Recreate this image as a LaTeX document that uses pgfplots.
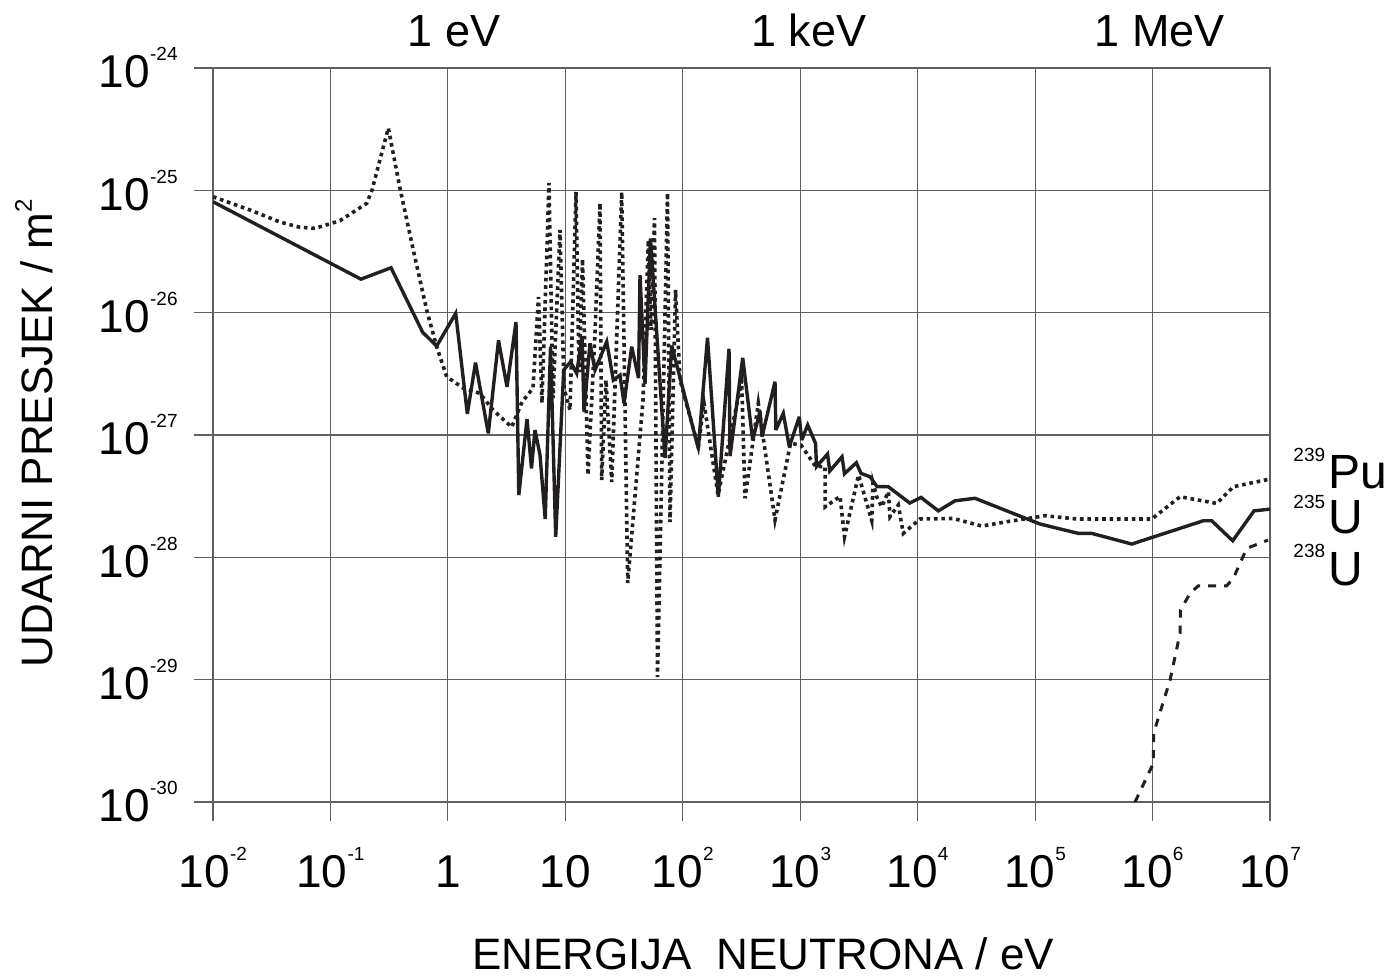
\documentclass[border=0pt]{standalone}
\usepackage{pgfplots}
\pgfplotsset{compat=1.18}
\usepackage{fontspec}
\setmainfont{Liberation Sans}
\definecolor{ink}{HTML}{231F20}
\definecolor{gridc}{HTML}{606060}
\newcommand\tl[2]{\mbox{#1\raisebox{13.5pt}{\fontsize{9.5}{9.5}\selectfont #2}}}
\newcommand\bigf{\fontsize{23}{23}\selectfont}
\begin{document}
\begin{tikzpicture}
\begin{axis}[
  at={(0,0)}, anchor=south west,
  scale only axis, width=528.5pt, height=367pt,
  xmode=log, ymode=log,
  xmin=1e-2, xmax=1e7, ymin=1e-30, ymax=1e-24,
  xtick={1e-2,1e-1,1,10,100,1e3,1e4,1e5,1e6,1e7},
  xticklabels={\tl{10}{-2},\tl{10}{-1},\mbox{1},\mbox{10},\tl{10}{2},\tl{10}{3},\tl{10}{4},\tl{10}{5},\tl{10}{6},\tl{10}{7}},
  ytick={1e-30,1e-29,1e-28,1e-27,1e-26,1e-25,1e-24},
  yticklabels={\tl{10}{-30},\tl{10}{-29},\tl{10}{-28},\tl{10}{-27},\tl{10}{-26},\tl{10}{-25},\tl{10}{-24}},
  xminorticks=false, yminorticks=false,
  tick align=outside, xtick pos=left, ytick pos=left,
  major tick length=9.5pt,
  grid=major, major grid style={gridc, line width=0.6pt},
  axis line style={gridc, line width=0.6pt},
  tick style={gridc, line width=0.6pt},
  ticklabel style={font=\bigf},
  xticklabel style={anchor=base, inner sep=0pt},
  yticklabel style={anchor=east, inner sep=0pt},
  xticklabel shift=33pt, yticklabel shift=8pt,
  xlabel={ENERGIJA~~NEUTRONA / eV},
  ylabel={UDARNI PRESJEK / m\raisebox{10.5pt}{\fontsize{12}{12}\selectfont 2}},
  label style={font=\fontsize{22}{22}\selectfont},
  xlabel style={at={(axis description cs:0.5203,-0.2275)}, anchor=base, inner sep=0pt},
  ylabel style={at={(axis description cs:-0.1514,0.5027)}, anchor=base, inner sep=0pt},
  clip mode=individual,
]
% 235U solid
\addplot[ink, line width=1.7pt, line join=miter, miter limit=4] coordinates {
(0.01,8.07e-26) (0.182,1.88e-26) (0.328,2.33e-26) (0.610,6.91e-27) (0.803,5.34e-27)
(1.166,9.88e-27) (1.464,1.49e-27) (1.719,3.91e-27) (2.209,1.032e-27) (2.698,5.94e-27)
(3.187,2.48e-27) (3.802,8.39e-27) (4.017,3.23e-28) (4.718,1.351e-27) (5.152,5.34e-28)
(5.518,1.099e-27) (6.086,6.86e-28) (6.74,2.06e-28) (7.48,5.27e-27) (8.28,1.474e-28)
(9.69,3.40e-27) (11.07,3.97e-27) (12.50,3.19e-27) (13.87,6.45e-27) (14.42,1.541e-27)
(16.22,5.62e-27) (17.89,3.40e-27) (22.51,5.79e-27) (25.62,2.815e-27) (29.22,3.09e-27)
(31.60,1.816e-27) (36.75,5.27e-27) (42.0,2.92e-27) (43.24,2.03e-26) (47.7,2.61e-27)
(53.1,4.05e-26) (70.6,6.48e-28) (80.5,5.39e-27) (135.6,7.78e-28) (162.4,6.23e-27)
(200.8,3.13e-28) (247.6,5.07e-27) (252.5,6.73e-28) (323.8,4.28e-27) (393.9,9.10e-28)
(454.7,1.571e-27) (472.8,9.68e-28) (610.1,2.73e-27) (619.7,1.099e-27) (718,1.504e-27)
(807.5,8.02e-28) (982,1.411e-27) (1030,9.10e-28) (1158,1.207e-27) (1350,8.55e-28)
(1377,5.53e-28) (1708,6.99e-28) (1786,5.08e-28) (2269,6.64e-28) (2383,4.83e-28)
(3004,5.94e-28) (3294,4.86e-28) (3930,4.56e-28) (4508,3.79e-28) (5626,3.78e-28)
(8557,2.78e-28) (10680,3.09e-28) (14990,2.40e-28) (20800,2.90e-28) (30790,3.04e-28)
(110100,1.873e-28) (233300,1.571e-28) (303400,1.571e-28) (664800,1.285e-28)
(2.706e6,1.992e-28) (3.19e6,1.992e-28) (4.815e6,1.367e-28) (7.315e6,2.40e-28) (1e7,2.48e-28)
};
% 239Pu dotted
\addplot[ink, line width=1.8pt, dash pattern=on 1.8pt off 1.9pt] coordinates {
(0.01,8.87e-26) (0.02066,6.91e-26) (0.0372,5.51e-26) (0.05506,4.99e-26) (0.0739,4.89e-26)
(0.1206,5.65e-26) (0.2035,7.83e-26) (0.2259,1.006e-25) (0.3110,3.23e-25) (0.3911,1.039e-25)
(0.5077,3.25e-26) (0.6602,1.051e-26) (0.803,5.27e-27) (0.977,2.995e-27) (1.353,2.42e-27)
(1.877,2.19e-27) (2.422,1.601e-27) (3.495,1.162e-27) (4.277,1.861e-27) (5.306,2.42e-27)
(5.909,1.343e-26) (6.33,1.826e-27) (7.26,1.148e-25) (7.855,2.006e-27) (9.01,4.74e-26)
(9.745,2.42e-27) (10.96,1.601e-27) (12.33,9.69e-26) (13.08,3.27e-27) (14.01,2.745e-26)
(15.60,4.71e-28) (17.89,6.82e-27) (19.74,7.88e-26) (20.40,4.29e-28) (22.20,2.815e-27)
(24.83,4.13e-28) (30.20,9.69e-26) (33.98,6.17e-29) (45.86,1.932e-27) (50.89,3.93e-26)
(53.65,7.21e-27) (57.46,5.94e-26) (60.93,1.051e-29) (74.15,9.51e-26) (77.86,1.944e-28)
(86.74,1.532e-26) (94.74,2.815e-27) (135.6,7.98e-28) (151.6,1.826e-27) (199.6,3.23e-28)
(317.6,2.76e-27) (338.8,3.04e-28) (439.8,1.816e-27) (610.1,2.02e-28) (826.9,8.55e-28)
(1016,8.28e-28) (1358,5.51e-28) (1626,5.53e-28) (1633,2.59e-28) (2182,3.15e-28)
(2383,1.474e-28) (3137,4.71e-28) (4063,2.0e-28) (4168,4.05e-28) (4481,3.13e-28)
(4943,2.59e-28) (5626,3.44e-28) (5817,2.15e-28) (6843,2.68e-28) (7549,1.571e-28)
(10470,2.06e-28) (20130,2.08e-28) (35120,1.803e-28) (57330,1.955e-28) (121500,2.19e-28)
(226100,2.06e-28) (984000,2.06e-28) (1.714e6,3.13e-28) (3.52e6,2.76e-28) (4.872e6,3.78e-28)
(1e7,4.37e-28)
};
% 238U dashed
\addplot[ink, line width=1.5pt, dash pattern=on 4pt off 4pt] coordinates {
(7.093e5,1.0e-30) (1.0155e6,2.07e-30) (1.02e6,3.64e-30) (1.409e6,9.93e-30) (1.714e6,2.39e-29)
(1.73e6,3.71e-29) (2.085e6,5.08e-29) (2.453e6,5.86e-29) (4.28e6,5.86e-29) (4.872e6,6.74e-29)
(6.34e6,1.185e-28) (9.62e6,1.385e-28)
};
\node[anchor=base, inner sep=0pt, font=\fontsize{22.5}{22.5}\selectfont] at (axis description cs:0.228,1.029) {1 eV};
\node[anchor=base, inner sep=0pt, font=\fontsize{22.5}{22.5}\selectfont] at (axis description cs:0.5639,1.029) {1 keV};
\node[anchor=base, inner sep=0pt, font=\fontsize{22.5}{22.5}\selectfont] at (axis description cs:0.8959,1.029) {1 MeV};
\node[anchor=base west, inner sep=0pt, font=\fontsize{24}{24}\selectfont] at (axis description cs:1.0218,0.4278) {\raisebox{13.5pt}{\fontsize{9.5}{9.5}\selectfont 239}\hspace{1.5pt}Pu};
\node[anchor=base west, inner sep=0pt, font=\fontsize{24}{24}\selectfont] at (axis description cs:1.0218,0.3665) {\raisebox{12.5pt}{\fontsize{9.5}{9.5}\selectfont 235}\hspace{1.5pt}U};
\node[anchor=base west, inner sep=0pt, font=\fontsize{24}{24}\selectfont] at (axis description cs:1.0218,0.2956) {\raisebox{14pt}{\fontsize{9.5}{9.5}\selectfont 238}\hspace{1.5pt}U};
\end{axis}
\pgfresetboundingbox
\path[use as bounding box] (-106.5pt,-87.5pt) rectangle (586.5pt,401pt);
\end{tikzpicture}
\end{document}
